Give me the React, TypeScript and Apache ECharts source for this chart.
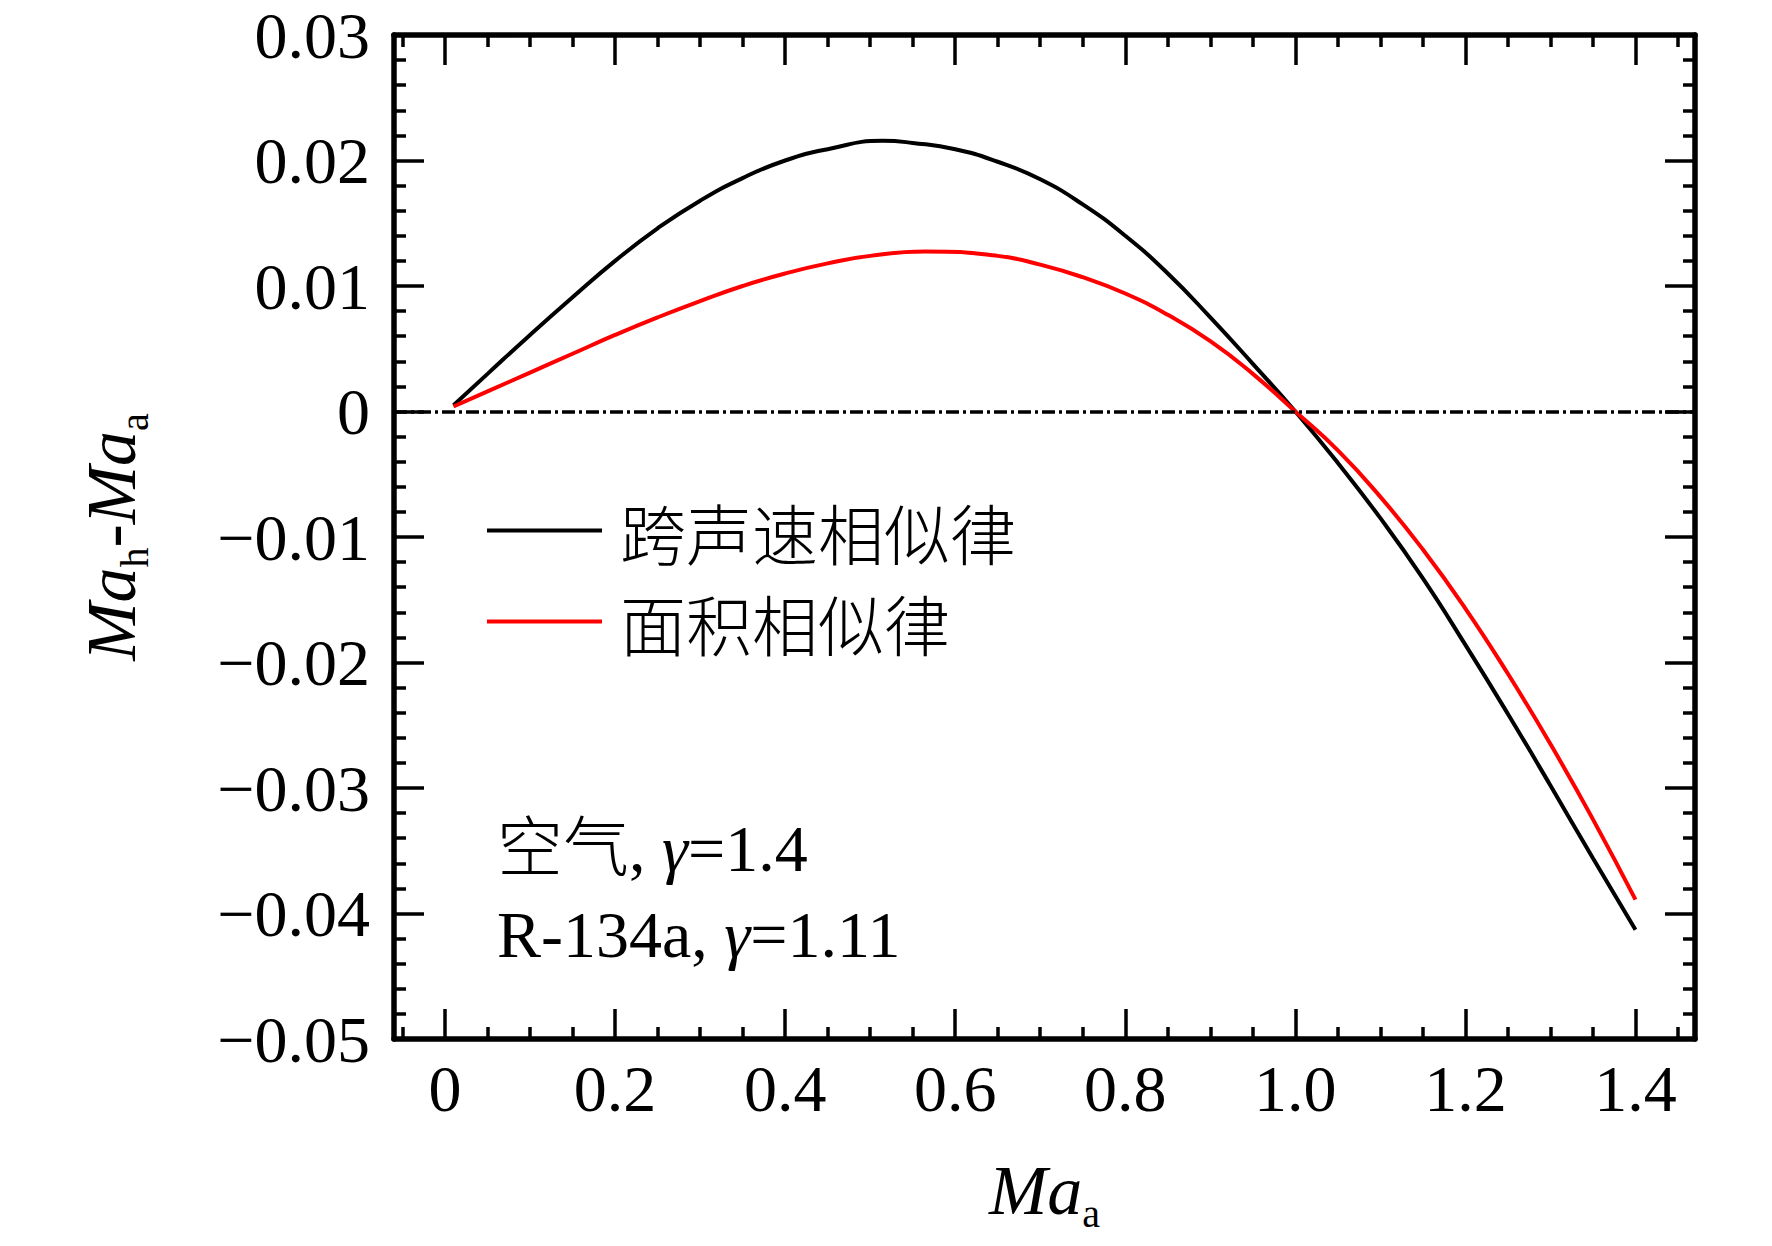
import React, { useEffect, useRef } from "react";
import * as echarts from "echarts";

// ---- data ----
const transonicX = [0.01, 0.05, 0.1, 0.15, 0.2, 0.25, 0.3, 0.35, 0.4, 0.45, 0.515, 0.55, 0.6, 0.65, 0.7, 0.75, 0.8, 0.85, 0.9, 0.95, 1.0, 1.05, 1.1, 1.15, 1.2, 1.25, 1.3, 1.35, 1.4];
const transonicY = [0.0005, 0.003, 0.0061, 0.0091, 0.012, 0.0146, 0.0168, 0.0186, 0.02, 0.0209, 0.02157, 0.0214, 0.0209, 0.0199, 0.0185, 0.0165, 0.014, 0.011, 0.0075, 0.0038, 0, -0.0041, -0.0085, -0.0133, -0.0186, -0.0241, -0.0298, -0.0356, -0.0413];
const areaX = [0.01, 0.05, 0.1, 0.15, 0.2, 0.25, 0.3, 0.35, 0.4, 0.45, 0.5, 0.565, 0.65, 0.7, 0.75, 0.8, 0.85, 0.9, 0.95, 1.0, 1.05, 1.1, 1.15, 1.2, 1.25, 1.3, 1.35, 1.4];
const areaY = [0.0004, 0.0016, 0.0031, 0.0046, 0.0061, 0.0075, 0.0088, 0.01, 0.011, 0.0118, 0.0124, 0.01275, 0.0124, 0.0117, 0.0107, 0.0094, 0.0077, 0.0056, 0.003, 0, -0.0031, -0.0068, -0.011, -0.0157, -0.0209, -0.0265, -0.0325, -0.0389];
const seriesNames = ["跨声速相似律", "面积相似律"];

const xMin = -0.06;
const xMax = 1.47;
const yMin = -0.05;
const yMax = 0.03;
const xMajor = [0, 0.2, 0.4, 0.6, 0.8, 1.0, 1.2, 1.4];
const xMajorLabels = ["0", "0.2", "0.4", "0.6", "0.8", "1.0", "1.2", "1.4"];
const xMinor = [-0.05, 0.05, 0.1, 0.15, 0.25, 0.3, 0.35, 0.45, 0.5, 0.55, 0.65, 0.7, 0.75, 0.85, 0.9, 0.95, 1.05, 1.1, 1.15, 1.25, 1.3, 1.35, 1.45];
const yMajor = [-0.05, -0.04, -0.03, -0.02, -0.01, 0, 0.01, 0.02, 0.03];
const yMajorLabels = ["\u22120.05", "\u22120.04", "\u22120.03", "\u22120.02", "\u22120.01", "0", "0.01", "0.02", "0.03"];
const yMinor: number[] = [];
for (let k = -25; k <= 15; k++) {
  if (k % 5 !== 0) yMinor.push(k * 0.002);
}
const annotationLines = ["空气, {g|γ}=1.4", "R-134a, {g|γ}=1.11"];

const SERIF = "'Liberation Serif', 'Times New Roman', serif";
const CJK = "'Noto Sans CJK SC', sans-serif";
const MIXED = "'Liberation Serif', 'Noto Sans CJK SC', serif";

function lookup(values: number[], labels: string[], v: number) {
  let best = 0;
  for (let i = 0; i < values.length; i++) {
    if (Math.abs(values[i] - v) < Math.abs(values[best] - v)) best = i;
  }
  return labels[best];
}

const lineStyleAxis = { color: "#000", width: 5.5 };

function xAxisDef(position: string, ticks: number[], len: number, labels: boolean, line: boolean, name?: any) {
  return {
    type: "value",
    position,
    min: xMin,
    max: xMax,
    splitLine: { show: false },
    axisLine: { show: line, onZero: false, lineStyle: lineStyleAxis },
    axisTick: { show: true, inside: true, length: len, customValues: ticks, lineStyle: { color: "#000", width: 3.5 } },
    axisLabel: labels
      ? {
          show: true,
          customValues: ticks,
          margin: 16,
          color: "#000",
          fontSize: 66,
          fontFamily: SERIF,
          formatter: (v: number) => lookup(xMajor, xMajorLabels, v),
        }
      : { show: false },
    ...(name || {}),
  };
}

function yAxisDef(position: string, ticks: number[], len: number, labels: boolean, line: boolean, name?: any) {
  return {
    type: "value",
    position,
    min: yMin,
    max: yMax,
    splitLine: { show: false },
    axisLine: { show: line, onZero: false, lineStyle: lineStyleAxis },
    axisTick: { show: true, inside: true, length: len, customValues: ticks, lineStyle: { color: "#000", width: 3.5 } },
    axisLabel: labels
      ? {
          show: true,
          customValues: ticks,
          margin: 24,
          color: "#000",
          fontSize: 66,
          fontFamily: SERIF,
          formatter: (v: number) => lookup(yMajor, yMajorLabels, v),
        }
      : { show: false },
    ...(name || {}),
  };
}

const richName = {
  i: { fontFamily: SERIF, fontStyle: "italic", fontSize: 70, lineHeight: 60, verticalAlign: "top", color: "#000" },
  n: { fontFamily: SERIF, fontSize: 70, lineHeight: 60, verticalAlign: "top", color: "#000" },
  s: { fontFamily: SERIF, fontSize: 40, lineHeight: 40, padding: [38, 0, 0, 0], verticalAlign: "top", color: "#000" },
};

export default function App() {
  const ref = useRef<HTMLDivElement>(null);
  useEffect(() => {
    if (!ref.current) return;
    const chart = echarts.init(ref.current, null, { renderer: "svg" });
    const option: any = {
      animation: false,
      backgroundColor: "#fff",
      grid: { left: 394, top: 35, width: 1301, height: 1004, containLabel: false, outerBoundsMode: "none" },
      xAxis: [
        xAxisDef("bottom", xMajor, 30, true, true, {
          name: "{i|Ma}{s|a}",
          nameLocation: "middle",
          nameGap: 116,
          nameTextStyle: { rich: richName },
        }),
        xAxisDef("top", xMajor, 30, false, true),
        xAxisDef("bottom", xMinor, 12, false, false),
        xAxisDef("top", xMinor, 12, false, false),
      ],
      yAxis: [
        yAxisDef("left", yMajor, 30, true, true, {
          name: "{i|Ma}{s|h}{n|-}{i|Ma}{s|a}",
          nameLocation: "middle",
          nameRotate: 90,
          nameGap: 258,
          nameTextStyle: { rich: richName },
        }),
        yAxisDef("right", yMajor, 30, false, true),
        yAxisDef("left", yMinor, 12, false, false),
        yAxisDef("right", yMinor, 12, false, false),
      ],
      legend: {
        orient: "vertical",
        left: 482,
        top: 480,
        icon: "rect",
        itemWidth: 115,
        itemHeight: 4,
        itemGap: 0,
        data: seriesNames,
        textStyle: { fontSize: 66, fontFamily: CJK, fontWeight: 300, color: "#000", lineHeight: 91, padding: [0, 0, 0, 13] },
      },
      graphic: annotationLines.map((t, i) => ({
        type: "text",
        x: 497,
        y: 848 + i * 86,
        style: {
          text: t,
          fill: "#000",
          fontSize: 66,
          fontFamily: MIXED,
          fontWeight: 300,
          verticalAlign: "middle",
          align: "left",
          rich: { g: { fontStyle: "italic", fontSize: 66, fontFamily: SERIF, fill: "#000" } },
        },
      })),
      series: [
        {
          name: seriesNames[0],
          type: "line",
          xAxisIndex: 0,
          yAxisIndex: 0,
          data: transonicX.map((x, i) => [x, transonicY[i]]),
          showSymbol: false,
          symbol: "none",
          smooth: 0.5,
          color: "#000",
          lineStyle: { color: "#000", width: 4 },
          z: 3,
          markLine: {
            silent: true,
            symbol: ["none", "none"],
            label: { show: false },
            lineStyle: { color: "#000", width: 3.5, type: [13, 4, 3, 4] },
            data: [{ yAxis: 0 }],
          },
        },
        {
          name: seriesNames[1],
          type: "line",
          xAxisIndex: 0,
          yAxisIndex: 0,
          data: areaX.map((x, i) => [x, areaY[i]]),
          showSymbol: false,
          symbol: "none",
          smooth: 0.5,
          color: "#f00",
          lineStyle: { color: "#f00", width: 4 },
          z: 4,
        },
      ],
    };
    chart.setOption(option);
    return () => chart.dispose();
  }, []);
  return (
    <div
      ref={ref}
      style={{ position: "fixed", left: 0, top: 0, width: 1772, height: 1246, background: "#fff" }}
    />
  );
}
